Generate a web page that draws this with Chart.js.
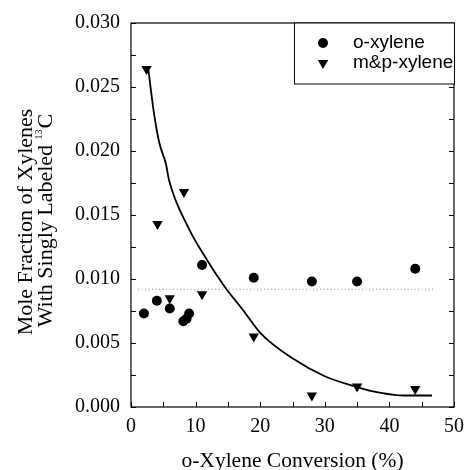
<!DOCTYPE html>
<html>
<head>
<meta charset="utf-8">
<script src="https://cdn.jsdelivr.net/npm/chart.js@4.4.0/dist/chart.umd.min.js"></script>
<style>
  body { margin: 0; background: #fff; }
  #wrap { width: 472px; height: 470px; }
</style>
</head>
<body>
<div id="wrap"><canvas id="chart" width="472" height="470"></canvas></div>
<script>
// Datos
const oXyleneConv = [2.0, 4.0, 6.0, 8.1, 8.6, 9.0, 11.0, 19.0, 28.0, 35.0, 44.0];
const oXyleneFrac = [0.0073, 0.0083, 0.0077, 0.0067, 0.0069, 0.0073, 0.0111, 0.0101, 0.0098, 0.0098, 0.0108];

const mpXyleneConv = [2.4, 4.1, 6.0, 8.2, 11.0, 19.0, 28.0, 35.0, 44.0];
const mpXyleneFrac = [0.0264, 0.0143, 0.0085, 0.0168, 0.0088, 0.0055, 0.0009, 0.0016, 0.0014];

// curva ajustada (dibujada a mano en el original)
const fitConv = [2.7, 3.6, 4.4, 5.4, 5.9, 8.9, 11.5, 14.5, 17.3, 20.0, 25.0, 30.0, 34.7, 38.7, 42.3, 46.6];
const fitFrac = [0.0263, 0.0228, 0.0206, 0.0190, 0.0177, 0.0140, 0.0117, 0.0094, 0.0076, 0.0058, 0.0038, 0.0024, 0.0016, 0.0011, 0.0009, 0.0009];

// linea punteada horizontal
const avgConv = [1.1, 46.8];
const avgFrac = [0.0092, 0.0092];

const xTicks = [0, 10, 20, 30, 40, 50];
const yTicks = [0.000, 0.005, 0.010, 0.015, 0.020, 0.025, 0.030];

const seriesNames = ['o-xylene', 'm&p-xylene'];
const xTitle = 'o-Xylene Conversion (%)';
const yTitle1 = 'Mole Fraction of Xylenes';
const yTitle2 = 'With Singly Labeled ';

function toPoints(xs, ys) {
  return xs.map((x, i) => ({ x: x, y: ys[i] }));
}

// Marco, marcas hacia adentro, titulo Y y leyenda
const framePlugin = {
  id: 'frame',
  afterDraw(chart) {
    const ctx = chart.ctx;
    const a = chart.chartArea;
    const xs = chart.scales.x;
    const ys = chart.scales.y;
    ctx.save();
    ctx.strokeStyle = '#000';
    ctx.lineWidth = 1.2;
    ctx.strokeRect(a.left, a.top, a.right - a.left, a.bottom - a.top);

    ctx.lineWidth = 1;
    ctx.beginPath();
    xs.ticks.forEach(t => {
      const px = Math.round(xs.getPixelForValue(t.value)) + 0.5;
      ctx.moveTo(px, a.bottom);
      ctx.lineTo(px, a.bottom - 5);
    });
    ys.ticks.forEach(t => {
      const py = Math.round(ys.getPixelForValue(t.value)) + 0.5;
      ctx.moveTo(a.left, py);
      ctx.lineTo(a.left + 5, py);
      ctx.moveTo(a.right, py);
      ctx.lineTo(a.right - 5, py);
    });
    ctx.stroke();

    // titulo eje Y (dos lineas, con superindice)
    ctx.fillStyle = '#000';
    ctx.textBaseline = 'alphabetic';
    ctx.textAlign = 'left';
    const big = '22px "Liberation Serif", "Times New Roman", serif';
    const small = '10px "Liberation Serif", "Times New Roman", serif';
    // linea 1
    ctx.save();
    ctx.translate(32, 222);
    ctx.rotate(-Math.PI / 2);
    ctx.font = big;
    const w1 = ctx.measureText(yTitle1).width;
    ctx.fillText(yTitle1, -w1 / 2, 0);
    ctx.restore();
    // linea 2
    ctx.save();
    ctx.translate(52, 221);
    ctx.rotate(-Math.PI / 2);
    ctx.font = big;
    const wa = ctx.measureText(yTitle2).width;
    const wc = ctx.measureText('C').width;
    ctx.font = small;
    const ws = ctx.measureText('13').width;
    const total = wa + ws + wc;
    const x0 = -total / 2;
    ctx.font = big;
    ctx.fillText(yTitle2, x0, 0);
    ctx.font = small;
    ctx.fillText('13', x0 + wa, -10);
    ctx.font = big;
    ctx.fillText('C', x0 + wa + ws + 1, 0);
    ctx.restore();

    // leyenda
    const lx = 294, ly = a.top, lw = a.right - 294, lh = 61;
    ctx.fillStyle = '#fff';
    ctx.fillRect(lx, ly, lw, lh);
    ctx.strokeStyle = '#000';
    ctx.lineWidth = 1;
    ctx.strokeRect(lx + 0.5, ly, lw, lh);
    ctx.fillStyle = '#000';
    ctx.font = '19px "Liberation Sans", Arial, sans-serif';
    ctx.textBaseline = 'middle';
    chart.data.datasets.slice(0, 2).forEach((ds, i) => {
      const my = ly + 20 + i * 20;
      Chart.helpers.drawPoint(ctx, {
        pointStyle: ds.pointStyle,
        radius: ds.pointRadius,
        rotation: ds.rotation || 0,
        borderWidth: 0
      }, 323, my);
      ctx.fillStyle = '#000';
      ctx.fillText(ds.label, 353, my);
    });
    ctx.restore();
  }
};

const ctx = document.getElementById('chart').getContext('2d');
new Chart(ctx, {
  type: 'scatter',
  data: {
    datasets: [
      {
        label: seriesNames[0],
        data: toPoints(oXyleneConv, oXyleneFrac),
        pointStyle: 'circle',
        pointRadius: 5,
        backgroundColor: '#000',
        borderColor: '#000',
        borderWidth: 0,
        order: 0
      },
      {
        label: seriesNames[1],
        data: toPoints(mpXyleneConv, mpXyleneFrac),
        pointStyle: 'triangle',
        rotation: 180,
        pointRotation: 180,
        pointRadius: 6,
        backgroundColor: '#000',
        borderColor: '#000',
        borderWidth: 0,
        order: 0
      },
      {
        label: 'fit',
        data: toPoints(fitConv, fitFrac),
        showLine: true,
        pointRadius: 0,
        borderColor: '#000',
        borderWidth: 1.8,
        cubicInterpolationMode: 'monotone',
        order: 1
      },
      {
        label: 'promedio',
        data: toPoints(avgConv, avgFrac),
        showLine: true,
        pointRadius: 0,
        borderColor: '#888',
        borderWidth: 1,
        borderDash: [1, 2.5],
        order: 2
      }
    ]
  },
  options: {
    responsive: false,
    animation: false,
    devicePixelRatio: 1,
    layout: { padding: { top: 23, right: 11, left: 0, bottom: 0 } },
    plugins: {
      legend: { display: false },
      tooltip: { enabled: false }
    },
    scales: {
      x: {
        type: 'linear',
        min: 0,
        max: 50,
        afterFit(scale) { scale.height = 63; },
        afterBuildTicks(scale) {
          const t = [];
          for (let v = 0; v <= 50; v += 5) t.push({ value: v });
          scale.ticks = t;
        },
        ticks: {
          padding: 8,
          autoSkip: false,
          maxRotation: 0,
          color: '#000',
          font: { family: '"Liberation Serif", "Times New Roman", serif', size: 20 },
          callback: v => (xTicks.includes(v) ? String(v) : '')
        },
        grid: { display: false, drawTicks: false },
        border: { display: false },
        title: {
          display: true,
          text: xTitle,
          color: '#000',
          font: { family: '"Liberation Serif", "Times New Roman", serif', size: 21.5, lineHeight: 1 },
          padding: { top: 0, bottom: -2 }
        }
      },
      y: {
        type: 'linear',
        min: 0,
        max: 0.03,
        afterFit(scale) { scale.width = 131; },
        afterBuildTicks(scale) {
          const t = [];
          for (let i = 0; i <= 12; i++) t.push({ value: i * 0.0025 });
          scale.ticks = t;
        },
        ticks: {
          padding: 11,
          autoSkip: false,
          color: '#000',
          font: { family: '"Liberation Serif", "Times New Roman", serif', size: 20 },
          callback: v => {
            const hit = yTicks.find(t => Math.abs(t - v) < 1e-9);
            return hit === undefined ? '' : hit.toFixed(3);
          }
        },
        grid: { display: false, drawTicks: false },
        border: { display: false }
      }
    }
  },
  plugins: [framePlugin]
});
</script>
</body>
</html>
